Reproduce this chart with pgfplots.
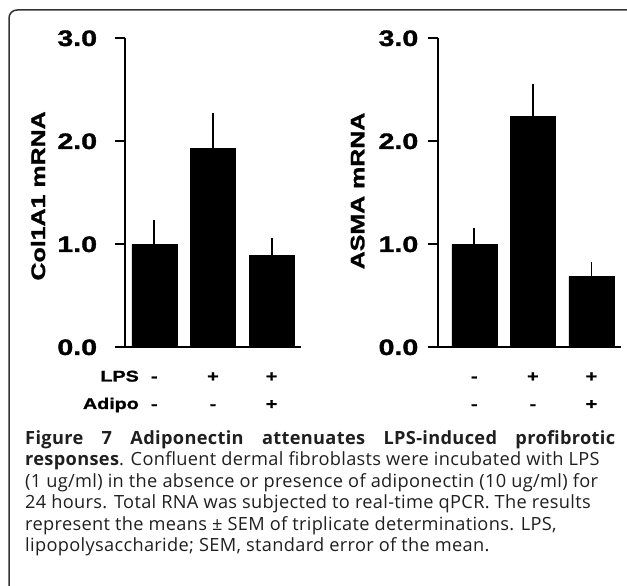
\documentclass[border=0pt]{standalone}
\usepackage{fontspec}
\usepackage{pgfplots}
\pgfplotsset{compat=1.18}
\setmainfont{Open Sans}[LetterSpace=1.8]
\newfontfamily\chartfont[FakeStretch=1.28,BoldFeatures={FakeBold=1.5}]{Liberation Sans}
\newcommand\tickfont{\chartfont\bfseries\fontsize{22.3}{24}\selectfont}
\newcommand\labfont{\chartfont\bfseries\fontsize{19.5}{21}\selectfont}
\newcommand\rowfont{\chartfont\bfseries\fontsize{15.4}{27.7}\selectfont}
\pgfplotsset{
  mybar/.style={
    scale only axis, height=309pt, ymin=0, ymax=3,
    axis x line*=bottom, axis y line*=left,
    axis line style={line width=1.8pt, black},
    ytick={0,1,2,3}, yticklabels={},
    tick align=outside, major tick length=10pt,
    ytick style={line width=1.8pt, black},
    xtick={0,1,2}, xtick style={draw=none},
    extra x ticks={0,1,2},
    extra x tick style={xtick style={draw=none}, xticklabel style={yshift=-27.7pt}},
    xticklabel style={font=\rowfont, anchor=base, yshift=-24.2pt},
    ylabel style={font=\labfont, anchor=center},
    ybar, bar width=45pt,
    error bars/y dir=plus, error bars/y explicit,
    error bars/error bar style={line width=1.8pt, draw=black},
    error bars/error mark options={line width=1.8pt, mark size=5.3pt, draw=black},
    clip=false,
  }
}
\begin{document}
\begin{tikzpicture}
\useasboundingbox (0pt,0pt) rectangle (627pt,586pt);
\draw[rounded corners=8pt, line width=1.5pt, black!80] (9pt,-2pt) -- (9pt,576pt) -- (630pt,576pt);

\begin{axis}[mybar, at={(125pt,238.7pt)}, anchor=south west, width=176pt,
  xmin=-0.5, xmax=2.5,
  xticklabels={-,+,+},
  extra x tick labels={-,-,+},
  ylabel={Col1A1 mRNA},
  ylabel style={at={(axis description cs:-0.494,0.49)}}]
\addplot[fill=black, draw=black, line width=0.4pt] coordinates {
  (0,1.00) +- (0,0.18)
  (1,1.93) +- (0,0.29)
  (2,0.89) +- (0,0.12)
};
\end{axis}

\begin{axis}[mybar, at={(438pt,238.7pt)}, anchor=south west, width=182.7pt,
  xmin=-0.62, xmax=2.5,
  xticklabels={-,+,+},
  extra x tick labels={-,-,+},
  ylabel={ASMA mRNA},
  ylabel style={at={(axis description cs:-0.44,0.506)}}]
\addplot[fill=black, draw=black, line width=0.4pt] coordinates {
  (0,1.00) +- (0,0.11)
  (1,2.24) +- (0,0.26)
  (2,0.69) +- (0,0.09)
};
\end{axis}

% y tick labels (0.0 ... 3.0) of both panels
\foreach \v/\yy in {0.0/238.7, 1.0/341.7, 2.0/444.7, 3.0/547.7}{
  \node[anchor=east, font=\tickfont, inner sep=0pt] at (97.3pt,\yy pt) {\v};
  \node[anchor=east, font=\tickfont, inner sep=0pt] at (418.5pt,\yy pt) {\v};
}

\node[anchor=base east, font=\rowfont, inner sep=0pt] at (139pt,204.5pt) {LPS};
\node[anchor=base east, font=\rowfont, inner sep=0pt] at (139pt,177pt) {Adipo};

\node[anchor=north west, inner sep=0pt, align=left, text=black!88,
  font=\fontsize{18.2}{21.5}\selectfont] at (25pt,156pt) {%
\hbox to 590pt{\bfseries Figure\hfill7\hfill Adiponectin\hfill attenuates\hfill LPS-induced\hfill profibrotic}\\
{\bfseries responses}. Confluent dermal fibroblasts were incubated with LPS\\
(1 ug/ml) in the absence or presence of adiponectin (10 ug/ml) for\\
24 hours. Total RNA was subjected to real-time qPCR. The results\\
represent the means ± SEM of triplicate determinations. LPS,\\
lipopolysaccharide; SEM, standard error of the mean.};
\end{tikzpicture}
\end{document}
